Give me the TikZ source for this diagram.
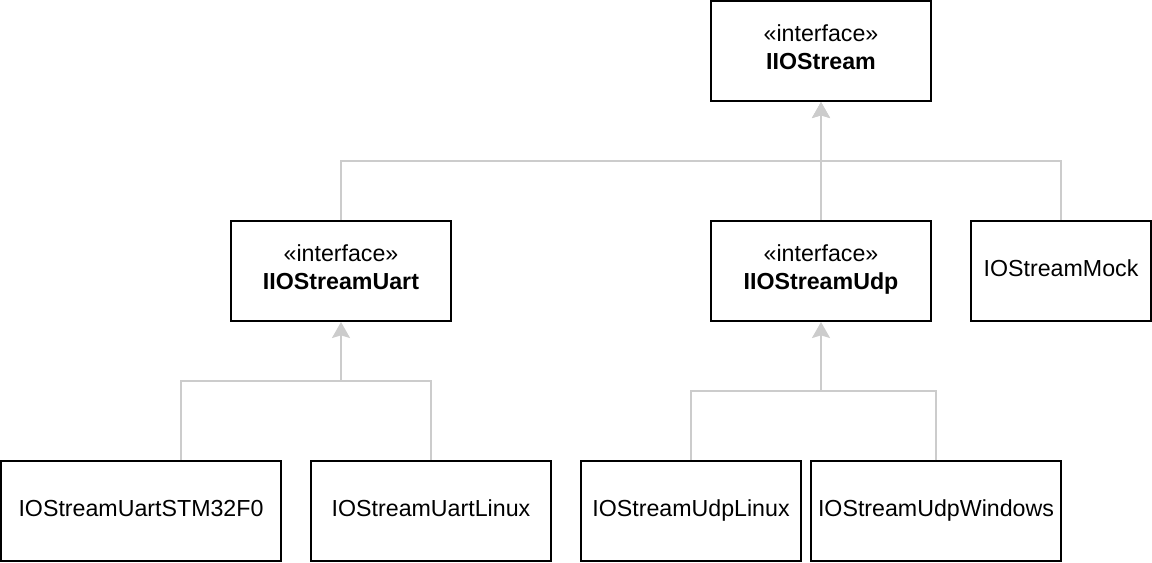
\documentclass[tikz,border=0pt]{standalone}
\usepackage{fontspec}
\setmainfont{Liberation Sans}
\usepackage{xcolor}
\usepackage{tikz}
\usetikzlibrary{arrows.meta}

\begin{document}
\begin{tikzpicture}[x=0.75pt,y=0.75pt,yscale=-1,xscale=1,
  cls/.style={draw=black, line width=1.5pt, fill=white, minimum height=75pt, inner sep=0pt, align=center, font=\fontsize{17.4}{21}\selectfont, text height=12.8pt, text depth=5.3pt},
  iface/.style={cls, text height=33pt, text depth=6pt},
  gen/.style={draw={rgb, 255:red, 204; green, 204; blue, 204}, line width=1.5pt},
  genarrow/.style={gen, -{Stealth[length=12pt,width=13.5pt,inset=2pt]}}]
\useasboundingbox (0,0) rectangle (1152,562);
% Text Node
\node [iface, minimum width=165pt] (iio) at (821,51) {«interface»\\\textbf{IIOStream}};
% Text Node
\node [iface, minimum width=165pt] (uart) at (341,271) {«interface»\\\textbf{IIOStreamUart}};
% Text Node
\node [iface, minimum width=165pt] (udp) at (821,271) {«interface»\\\textbf{IIOStreamUdp}};
% Text Node
\node [cls, minimum width=135pt] (mock) at (1061,271) {IOStreamMock};
% Text Node
\node [cls, minimum width=210pt] (stm) at (141,511) {IOStreamUartSTM32F0};
% Text Node
\node [cls, minimum width=180pt] (uartlinux) at (431,511) {IOStreamUartLinux};
% Text Node
\node [cls, minimum width=165pt] (udplinux) at (691,511) {IOStreamUdpLinux};
% Text Node
\node [cls, minimum width=187.5pt] (udpwin) at (936,511) {IOStreamUdpWindows};
%Junctions
\coordinate (topjoin) at (821,161);
\coordinate (uartjoin) at (341,381);
\coordinate (udpjoin) at (821,391);
%Straight Lines
\draw [genarrow] (uart.north) |- (topjoin) -- (iio.south);
\draw [genarrow] (udp.north) -- (iio.south);
\draw [gen] (mock.north) |- (topjoin);
%Straight Lines
\draw [genarrow] ([xshift=30pt]stm.north) |- (uartjoin) -- (uart.south);
\draw [gen] (uartlinux.north) |- (uartjoin);
%Straight Lines
\draw [genarrow] (udplinux.north) |- (udpjoin) -- (udp.south);
\draw [gen] (udpwin.north) |- (udpjoin);
\end{tikzpicture}
\end{document}
